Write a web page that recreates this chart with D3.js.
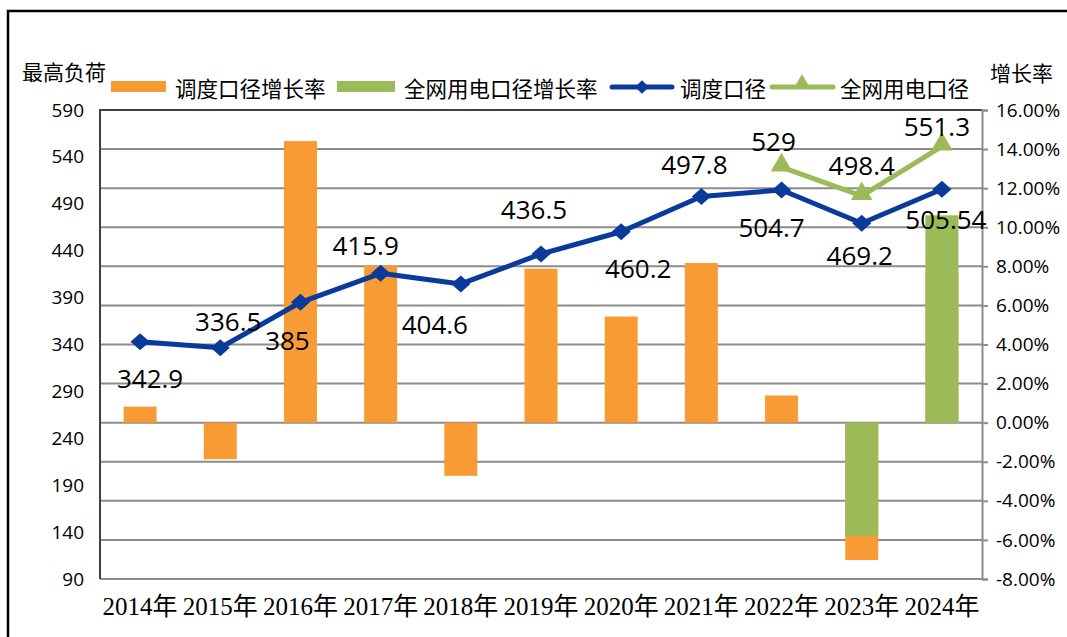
<!DOCTYPE html>
<html>
<head>
<meta charset="utf-8">
<script src="https://cdn.jsdelivr.net/npm/d3@7"></script>
<style>
  body { margin: 0; background: #fff; }
  svg { display: block; }
</style>
</head>
<body>
<svg id="chart"></svg>
<script>
// categories + series
const years = ['2014年', '2015年', '2016年', '2017年', '2018年', '2019年', '2020年', '2021年', '2022年', '2023年', '2024年'];
const dispatchLoad = [342.9, 336.5, 385, 415.9, 404.6, 436.5, 460.2, 497.8, 504.7, 469.2, 505.54];
const gridLoad = [null, null, null, null, null, null, null, null, 529, 498.4, 551.3];
const dispatchGrowth = [0.82, -1.87, 14.41, 8.03, -2.72, 7.88, 5.43, 8.17, 1.39, -7.03, 7.74];
const gridGrowth = [null, null, null, null, null, null, null, null, null, -5.78, 10.61];
const leftTicks = [90, 140, 190, 240, 290, 340, 390, 440, 490, 540, 590];
const rightTicks = [-8, -6, -4, -2, 0, 2, 4, 6, 8, 10, 12, 14, 16];

// label nudges (layout only)
const dispatchLabelOffsets = [[10, 36], [8, -27], [-13, 38], [-15, -28], [-26, 40], [-7, -45], [17, 36], [-7, -32], [-10, 37], [-2, 32], [4, 30]];
const gridLabelOffsets = [null, null, null, null, null, null, null, null, [-8, -26], [0, -31], [-5, -20]];

const ORANGE = '#f99b35';
const GREEN = '#9bbb59';
const BLUE = '#0b3b9a';
const SANS = '"Open Sans", "Noto Sans CJK SC", sans-serif';
const CJK = '"Noto Sans CJK SC", sans-serif';

class ComboChart {

  constructor(_config) {
    this.config = {
      parentElement: _config.parentElement,
      containerWidth: 1067,
      containerHeight: 637,
      plot: { left: 100, right: 982, top: 110, bottom: 579 }
    };
    this.initVis();
  }

  initVis() {
    let vis = this;
    const p = vis.config.plot;

    vis.svg = d3.select(vis.config.parentElement)
        .attr('width', vis.config.containerWidth)
        .attr('height', vis.config.containerHeight);

    // outer frame (top + left visible)
    vis.svg.append('path')
        .attr('d', `M8,${vis.config.containerHeight} L8,11 L${vis.config.containerWidth},11`)
        .attr('fill', 'none')
        .attr('stroke', '#000')
        .attr('stroke-width', 2.5);

    vis.xScale = d3.scaleBand()
        .domain(years)
        .range([p.left, p.right])
        .padding(0);

    vis.yLeft = d3.scaleLinear().domain([90, 590]).range([p.bottom, p.top]);
    vis.yRight = d3.scaleLinear().domain([-8, 16]).range([p.bottom, p.top]);

    // gridlines follow the right axis ticks
    vis.svg.append('g')
      .selectAll('line')
      .data(rightTicks)
      .join('line')
        .attr('x1', p.left)
        .attr('x2', p.right)
        .attr('y1', d => vis.yRight(d))
        .attr('y2', d => vis.yRight(d))
        .attr('stroke', '#8c8c8c')
        .attr('stroke-width', 2);

    // plot border top + left
    vis.svg.append('path')
        .attr('d', `M${p.left},${p.bottom} L${p.left},${p.top} L${p.right},${p.top}`)
        .attr('fill', 'none')
        .attr('stroke', '#404040')
        .attr('stroke-width', 2);

    // right axis
    vis.rightAxis = d3.axisRight(vis.yRight)
        .tickValues(rightTicks)
        .tickSize(6)
        .tickPadding(8)
        .tickFormat(d => d.toFixed(2) + '%');
    vis.svg.append('g')
        .attr('class', 'axis y-right')
        .attr('transform', `translate(${p.right},0)`)
        .call(vis.rightAxis)
        .call(g => g.select('.domain').attr('stroke', '#8c8c8c').attr('stroke-width', 2))
        .call(g => g.selectAll('.tick line').attr('stroke', '#8c8c8c').attr('stroke-width', 2))
        .call(g => g.selectAll('text').attr('font-family', SANS).attr('font-size', 19).attr('fill', '#000'));

    // left axis, labels only
    vis.leftAxis = d3.axisLeft(vis.yLeft)
        .tickValues(leftTicks)
        .tickSize(0)
        .tickPadding(16);
    vis.svg.append('g')
        .attr('class', 'axis y-left')
        .attr('transform', `translate(${p.left},0)`)
        .call(vis.leftAxis)
        .call(g => g.select('.domain').remove())
        .call(g => g.selectAll('text').attr('font-family', SANS).attr('font-size', 19).attr('fill', '#000'));

    // x axis labels
    vis.xAxis = d3.axisBottom(vis.xScale).tickSize(0).tickPadding(18);
    vis.svg.append('g')
        .attr('class', 'axis x-axis')
        .attr('transform', `translate(0,${p.bottom})`)
        .call(vis.xAxis)
        .call(g => g.select('.domain').remove())
        .call(g => g.selectAll('text')
            .attr('font-family', '"Liberation Serif", "Noto Sans CJK SC", serif')
            .attr('font-size', 25)
            .attr('fill', '#000'));

    vis.renderBars();
    vis.renderLines();
    vis.renderLegend();
  }

  renderBars() {
    let vis = this;
    const barW = 33;
    const cx = i => vis.xScale(years[i]) + vis.xScale.bandwidth() / 2;

    const drawBars = (values, color) => {
      vis.svg.append('g')
        .selectAll('rect')
        .data(values.map((v, i) => ({ v, i })).filter(d => d.v !== null))
        .join('rect')
          .attr('x', d => cx(d.i) - barW / 2)
          .attr('width', barW)
          .attr('y', d => vis.yRight(Math.max(0, d.v)))
          .attr('height', d => Math.abs(vis.yRight(d.v) - vis.yRight(0)))
          .attr('fill', color);
    };
    drawBars(dispatchGrowth, ORANGE);
    drawBars(gridGrowth, GREEN);
  }

  renderLines() {
    let vis = this;
    const cx = i => vis.xScale(years[i]) + vis.xScale.bandwidth() / 2;

    const line = d3.line()
        .defined(d => d.v !== null)
        .x(d => cx(d.i))
        .y(d => vis.yLeft(d.v));

    const toPts = arr => arr.map((v, i) => ({ v, i }));

    // blue dispatch line
    const blue = toPts(dispatchLoad);
    vis.svg.append('path')
        .datum(blue)
        .attr('d', line)
        .attr('fill', 'none')
        .attr('stroke', BLUE)
        .attr('stroke-width', 5)
        .attr('stroke-linejoin', 'round');
    vis.svg.append('g')
      .selectAll('path')
      .data(blue)
      .join('path')
        .attr('d', d3.symbol(d3.symbolDiamond2, 185))
        .attr('transform', d => `translate(${cx(d.i)},${vis.yLeft(d.v)}) scale(1.12,1)`)
        .attr('fill', BLUE);

    // green grid line
    const green = toPts(gridLoad).filter(d => d.v !== null);
    vis.svg.append('path')
        .datum(green)
        .attr('d', line)
        .attr('fill', 'none')
        .attr('stroke', GREEN)
        .attr('stroke-width', 5)
        .attr('stroke-linejoin', 'round');
    vis.svg.append('g')
      .selectAll('path')
      .data(green)
      .join('path')
        .attr('d', d3.symbol(d3.symbolTriangle, 200))
        .attr('transform', d => `translate(${cx(d.i)},${vis.yLeft(d.v) - 2})`)
        .attr('fill', GREEN);

    // value labels
    const labels = blue.map(d => ({ ...d, off: dispatchLabelOffsets[d.i] }))
      .concat(green.map(d => ({ ...d, off: gridLabelOffsets[d.i] })));
    vis.svg.append('g')
      .selectAll('text')
      .data(labels)
      .join('text')
        .attr('x', d => cx(d.i) + d.off[0])
        .attr('y', d => vis.yLeft(d.v) + d.off[1])
        .attr('text-anchor', 'middle')
        .attr('dominant-baseline', 'central')
        .attr('font-family', SANS)
        .attr('font-size', 26)
        .attr('fill', '#000')
        .text(d => d.v);
  }

  renderLegend() {
    let vis = this;
    const y = 87;
    const lg = vis.svg.append('g').attr('font-family', CJK).attr('font-size', 21.5).attr('fill', '#000');

    // axis titles
    lg.append('text').attr('x', 22).attr('y', 71).attr('dominant-baseline', 'central').attr('font-size', 21).text('最高负荷');
    lg.append('text').attr('x', 990).attr('y', 72).attr('dominant-baseline', 'central').attr('font-size', 21).text('增长率');

    // bar swatches
    lg.append('rect').attr('x', 111).attr('y', y - 6).attr('width', 55).attr('height', 11).attr('fill', ORANGE);
    lg.append('text').attr('x', 175).attr('y', y).attr('dominant-baseline', 'central').text('调度口径增长率');
    lg.append('rect').attr('x', 337).attr('y', y - 6).attr('width', 58).attr('height', 11).attr('fill', GREEN);
    lg.append('text').attr('x', 404).attr('y', y).attr('dominant-baseline', 'central').text('全网用电口径增长率');

    // line swatches
    lg.append('line').attr('x1', 612).attr('x2', 672).attr('y1', y).attr('y2', y)
        .attr('stroke', BLUE).attr('stroke-width', 5).attr('stroke-linecap', 'round');
    lg.append('path').attr('d', d3.symbol(d3.symbolDiamond2, 120))
        .attr('transform', `translate(642,${y})`).attr('fill', BLUE);
    lg.append('text').attr('x', 680).attr('y', y).attr('dominant-baseline', 'central').text('调度口径');

    lg.append('line').attr('x1', 772).attr('x2', 833).attr('y1', y).attr('y2', y)
        .attr('stroke', GREEN).attr('stroke-width', 5).attr('stroke-linecap', 'round');
    lg.append('path').attr('d', d3.symbol(d3.symbolTriangle, 130))
        .attr('transform', `translate(802,${y - 3})`).attr('fill', GREEN);
    lg.append('text').attr('x', 840).attr('y', y).attr('dominant-baseline', 'central').text('全网用电口径');
  }
}

new ComboChart({ parentElement: '#chart' });
</script>
</body>
</html>
